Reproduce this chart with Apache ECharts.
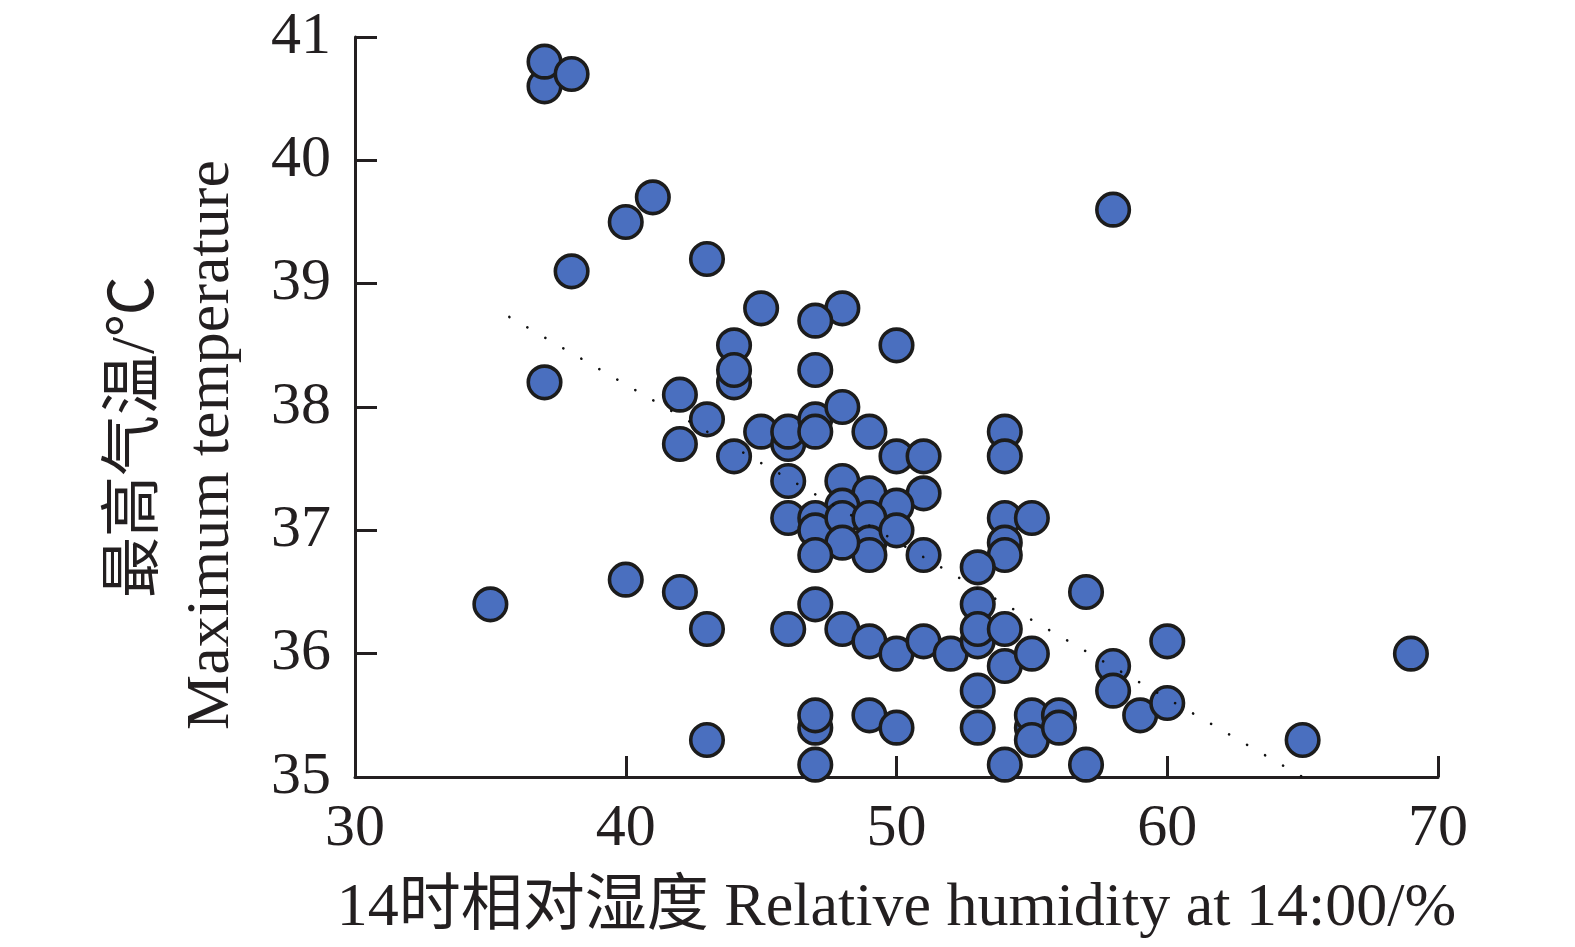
<!DOCTYPE html>
<html>
<head>
<meta charset="utf-8">
<script src="https://cdn.jsdelivr.net/npm/echarts@6/dist/echarts.min.js"></script>
<style>
html,body{margin:0;padding:0;background:#fff;}
#chart{width:1575px;height:947px;}
</style>
</head>
<body>
<div id="chart"></div>
<script>
// Relative humidity at 14:00 (%)
var humidity = [
  37,37,38,41,40,38,43,58,
  45,48,47,50,44,44,44,47,37,42,43,42,44,
  45,46,46,47,47,48,49,50,51,54,54,
  46,48,49,51,50,48,46,47,47,48,49,49,49,48,47,50,51,
  54,54,54,55,53,57,
  35,40,42,43,46,47,48,49,50,51,52,53,53,53,54,54,55,
  58,58,59,60,60,69,65,53,53,55,55,55,56,56,54,57,43,47,47,47,49,50
];
// Maximum temperature (°C)
var maxTemp = [
  40.6,40.8,40.7,39.7,39.5,39.1,39.2,39.6,
  38.8,38.8,38.7,38.5,38.5,38.2,38.3,38.3,38.2,38.1,37.9,37.7,37.6,
  37.8,37.7,37.8,37.9,37.8,38.0,37.8,37.6,37.6,37.8,37.6,
  37.4,37.4,37.3,37.3,37.2,37.2,37.1,37.1,37.0,37.1,37.1,36.9,36.8,36.9,36.8,37.0,36.8,
  37.1,36.9,36.8,37.1,36.7,36.5,
  36.4,36.6,36.5,36.2,36.2,36.4,36.2,36.1,36.0,36.1,36.0,36.4,36.1,36.2,36.2,35.9,36.0,
  35.9,35.7,35.5,36.1,35.6,36.0,35.3,35.7,35.4,35.4,35.5,35.3,35.5,35.4,35.1,35.1,35.3,35.4,35.5,35.1,35.5,35.4
];
// Linear trend line end points
var trendX = [35.7, 65.0];
var trendY = [38.73, 35.0];

var xTicks = [30, 40, 50, 60, 70];
var yTicks = [35, 36, 37, 38, 39, 40, 41];

var points = humidity.map(function (h, i) { return [h, maxTemp[i]]; });
var trend = trendX.map(function (x, i) { return [x, trendY[i]]; });

var serif = "'Liberation Serif', 'Times New Roman', 'Noto Sans CJK SC', serif";
var ink = '#231f20';

var chart = echarts.init(document.getElementById('chart'));
chart.setOption({
  animation: false,
  backgroundColor: '#ffffff',
  grid: { left: 355, right: 137, top: 37, bottom: 170 },
  xAxis: {
    type: 'value',
    min: xTicks[0], max: xTicks[xTicks.length - 1], interval: 10,
    name: '14时相对湿度 Relative humidity at 14:00/%',
    nameLocation: 'middle',
    nameGap: 101,
    nameTextStyle: { fontFamily: serif, fontSize: 62, color: ink },
    axisLine: { lineStyle: { color: ink, width: 3 } },
    axisTick: { inside: true, length: 21, lineStyle: { color: ink, width: 3 } },
    axisLabel: { margin: 22, fontFamily: serif, fontSize: 60, color: ink },
    splitLine: { show: false }
  },
  yAxis: {
    type: 'value',
    min: yTicks[0], max: yTicks[yTicks.length - 1], interval: 1,
    axisLine: { show: true, lineStyle: { color: ink, width: 3 } },
    axisTick: { show: true, inside: true, length: 22, lineStyle: { color: ink, width: 3 } },
    axisLabel: { margin: 24, fontFamily: serif, fontSize: 60, color: ink },
    splitLine: { show: false }
  },
  graphic: [
    {
      type: 'text', x: 137, y: 437, rotation: Math.PI / 2,
      style: { text: '最高气温/℃', fontFamily: serif, fontSize: 61, fill: ink,
               align: 'center', verticalAlign: 'middle' }
    },
    {
      type: 'text', x: 212, y: 445, rotation: Math.PI / 2,
      style: { text: 'Maximum temperature', fontFamily: serif, fontSize: 62, fill: ink,
               align: 'center', verticalAlign: 'middle' }
    }
  ],
  series: [
    {
      type: 'scatter',
      data: points,
      symbol: 'circle',
      symbolSize: 32.5,
      itemStyle: { color: '#4a6fbf', borderColor: '#1c1c1c', borderWidth: 3.6, opacity: 1 },
      z: 2
    },
    {
      type: 'line',
      data: trend,
      symbol: 'none',
      lineStyle: { color: '#111', width: 2.6, type: [0.1, 20.7], cap: 'round' },
      z: 5
    }
  ]
});
</script>
</body>
</html>
